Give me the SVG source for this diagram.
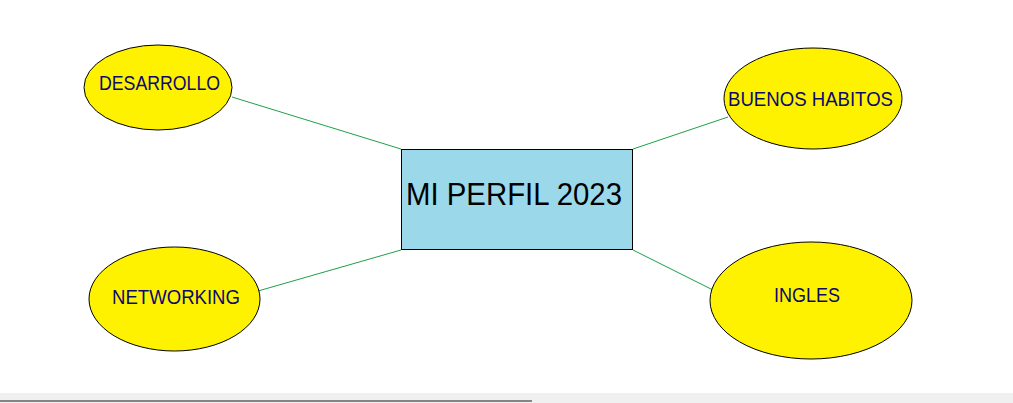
<svg xmlns="http://www.w3.org/2000/svg" width="1013" height="403" viewBox="0 0 1013 403">
<style>
.ell{fill:#fff200;stroke:#000;stroke-width:1}
.lbl{font-family:"Liberation Sans","Noto Sans",sans-serif;font-size:21px;fill:#0a0a70;text-anchor:start}
.conn line{stroke:#1ea04a;stroke-width:1}
</style>
<rect x="0" y="0" width="1013" height="403" fill="#fff"/>
<g id="connectors" class="conn">
<line x1="232" y1="97" x2="401" y2="149"/>
<line x1="633" y1="149" x2="728" y2="117"/>
<line x1="258" y1="291" x2="401" y2="250"/>
<line x1="633" y1="250" x2="713" y2="290"/>
</g>
<g id="center">
<rect x="401.5" y="149.5" width="231" height="100" fill="#9bd9ea" stroke="#000" stroke-width="1"/>
<text x="406" y="205" font-family="Liberation Sans, Noto Sans, sans-serif" font-size="31" fill="#000" textLength="216" lengthAdjust="spacingAndGlyphs">MI PERFIL 2023</text>
</g>
<g id="desarrollo">
<ellipse class="ell" cx="158" cy="87.5" rx="74" ry="42.5"/>
<text class="lbl" x="99" y="90" textLength="121" lengthAdjust="spacingAndGlyphs">DESARROLLO</text>
</g>
<g id="buenos-habitos">
<ellipse class="ell" cx="813" cy="98.5" rx="89" ry="50.5"/>
<text class="lbl" x="728" y="106" textLength="165" lengthAdjust="spacingAndGlyphs">BUENOS HABITOS</text>
</g>
<g id="networking">
<ellipse class="ell" cx="174.5" cy="299" rx="85.5" ry="52"/>
<text class="lbl" x="112" y="304" textLength="128" lengthAdjust="spacingAndGlyphs">NETWORKING</text>
</g>
<g id="ingles">
<ellipse class="ell" cx="811" cy="300.5" rx="101" ry="58.5"/>
<text class="lbl" x="774" y="302" textLength="66" lengthAdjust="spacingAndGlyphs">INGLES</text>
</g>
<rect x="0" y="393" width="1013" height="10" fill="#f0f0f0"/>
<rect x="0" y="400" width="532" height="2" fill="#858585"/>
</svg>
